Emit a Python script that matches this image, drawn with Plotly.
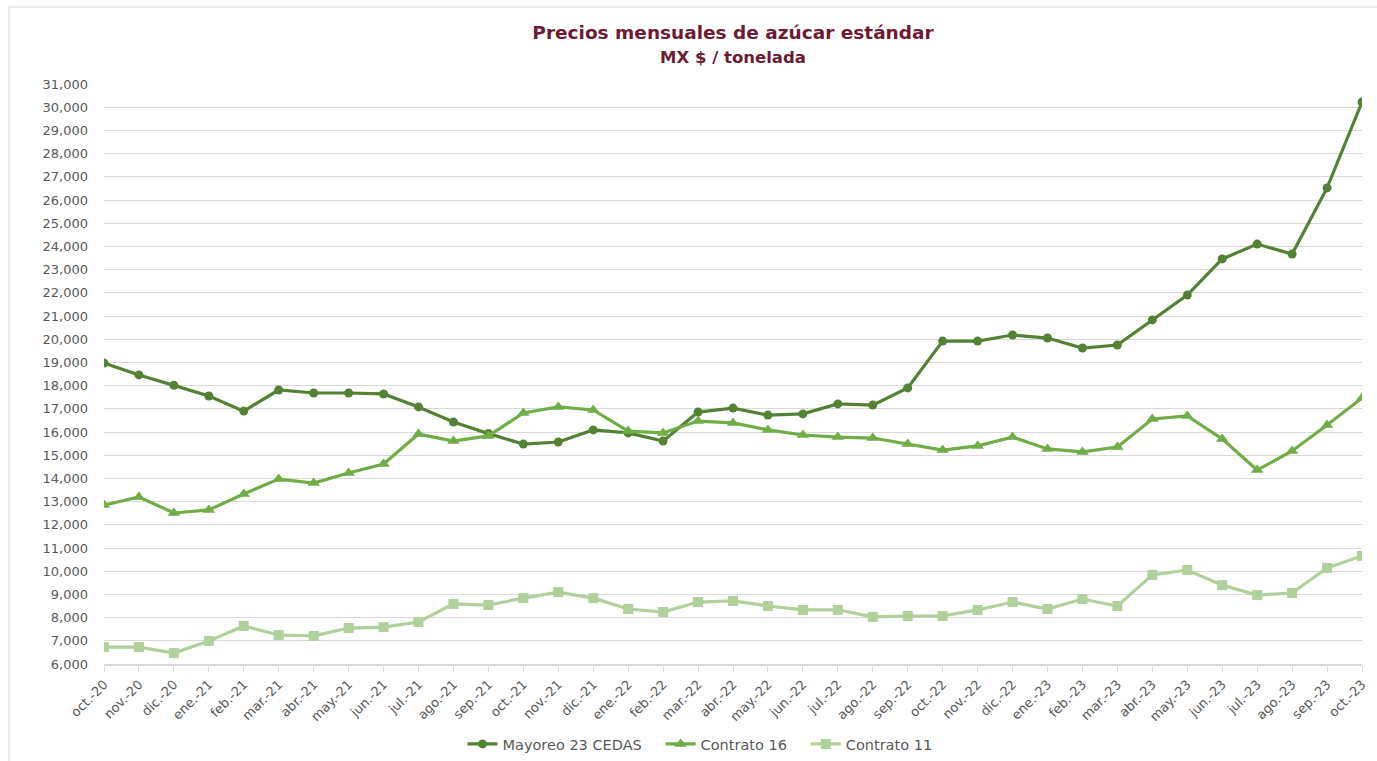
import plotly.graph_objects as go

months = ["oct.-20","nov.-20","dic.-20","ene.-21","feb.-21","mar.-21","abr.-21","may.-21","jun.-21",
          "jul.-21","ago.-21","sep.-21","oct.-21","nov.-21","dic.-21","ene.-22","feb.-22","mar.-22",
          "abr.-22","may.-22","jun.-22","jul.-22","ago.-22","sep.-22","oct.-22","nov.-22","dic.-22",
          "ene.-23","feb.-23","mar.-23","abr.-23","may.-23","jun.-23","jul.-23","ago.-23","sep.-23","oct.-23"]

mayoreo = [18970, 18460, 18010, 17550, 16900, 17810, 17680, 17680, 17640, 17080, 16430, 15930,
           15480, 15570, 16090, 15960, 15610, 16860, 17030, 16730, 16780, 17210, 17160, 17900,
           19920, 19920, 20180, 20050, 19620, 19750, 20830, 21900, 23460, 24100, 23670, 26520, 30220]

contrato16 = [12850, 13200, 12510, 12640, 13330, 13970, 13800, 14230, 14620, 15910, 15610, 15830,
              16820, 17080, 16950, 16040, 15960, 16470, 16390, 16090, 15870, 15780, 15740, 15480,
              15220, 15400, 15780, 15270, 15140, 15350, 16560, 16690, 15700, 14360, 15180, 16300, 17470]

contrato11 = [6730, 6730, 6470, 6990, 7640, 7250, 7210, 7550, 7590, 7810, 8590, 8540,
              8840, 9100, 8840, 8370, 8240, 8670, 8720, 8500, 8330, 8330, 8030, 8070,
              8070, 8330, 8670, 8370, 8800, 8500, 9840, 10050, 9400, 8970, 9060, 10140, 10660]

series_names = ["Mayoreo 23 CEDAS", "Contrato 16", "Contrato 11"]

y_ticks = list(range(6000, 31001, 1000))
y_labels = [f"{v:,}" for v in y_ticks]

FONT = "DejaVu Sans"
PAD = "\u00a0\u00a0\u00a0"

fig = go.Figure()
fig.add_trace(go.Scatter(x=months, y=mayoreo, name=series_names[0] + PAD, mode="lines+markers",
                         line=dict(color="#548235", width=3.2),
                         marker=dict(symbol="circle", size=9, color="#548235")))
fig.add_trace(go.Scatter(x=months, y=contrato16, name=series_names[1] + PAD, mode="lines+markers",
                         line=dict(color="#70AD47", width=3.2),
                         marker=dict(symbol="triangle-up", size=11, color="#70AD47")))
fig.add_trace(go.Scatter(x=months, y=contrato11, name=series_names[2], mode="lines+markers",
                         line=dict(color="#B0D09C", width=3.2),
                         marker=dict(symbol="square", size=10, color="#B0D09C")))

L, R, T, B = 104, 15, 84, 97
W, H = 1377, 761
pw, ph = W - L - R, H - T - B

def px_x(px):
    return (px - L) / pw

def px_y(py):
    return (H - B - py) / ph

fig.update_layout(
    width=W, height=H,
    margin=dict(l=L, r=R, t=T, b=B, autoexpand=False),
    paper_bgcolor="white", plot_bgcolor="white",
    font=dict(family=FONT, color="#595959", size=13),
    title=dict(
        text="<b>Precios mensuales de azúcar estándar</b><br><b><span style='font-size:16.5px'>MX $ / tonelada</span></b>",
        x=0.5, xanchor="center", xref="paper", y=1 - 39 / H, yanchor="top",
        font=dict(family=FONT, size=18.5, color="#6E1A34")),
    xaxis=dict(type="category", range=[0, 36], tickangle=-45, showgrid=False, automargin=False,
               showline=True, linecolor="#D9D9D9", linewidth=1.5,
               ticks="outside", ticklen=6, tickcolor="#D9D9D9", tickwidth=1,
               tickfont=dict(size=13, color="#595959", family=FONT)),
    yaxis=dict(range=[6000, 31000], tickvals=y_ticks, ticktext=y_labels, automargin=False,
               showgrid=True, gridcolor="#D9D9D9", gridwidth=1, zeroline=False,
               showline=False, ticks="", ticklabelstandoff=15,
               tickfont=dict(size=13, color="#595959", family=FONT)),
    legend=dict(orientation="h", x=px_x(700), xanchor="center", y=px_y(744), yanchor="middle",
                font=dict(size=14.5, color="#595959", family=FONT), itemwidth=30,
                entrywidth=0, traceorder="normal"),
    showlegend=True,
)

fig.add_shape(type="rect", xref="paper", yref="paper",
              x0=px_x(9), x1=px_x(1390), y0=px_y(775), y1=px_y(7),
              line=dict(color="#D9D9D9", width=1), fillcolor="rgba(0,0,0,0)", layer="below")

fig.write_html("out.html", config={"displayModeBar": False},
               post_script="document.body.style.margin='0';document.body.style.overflow='hidden';")
